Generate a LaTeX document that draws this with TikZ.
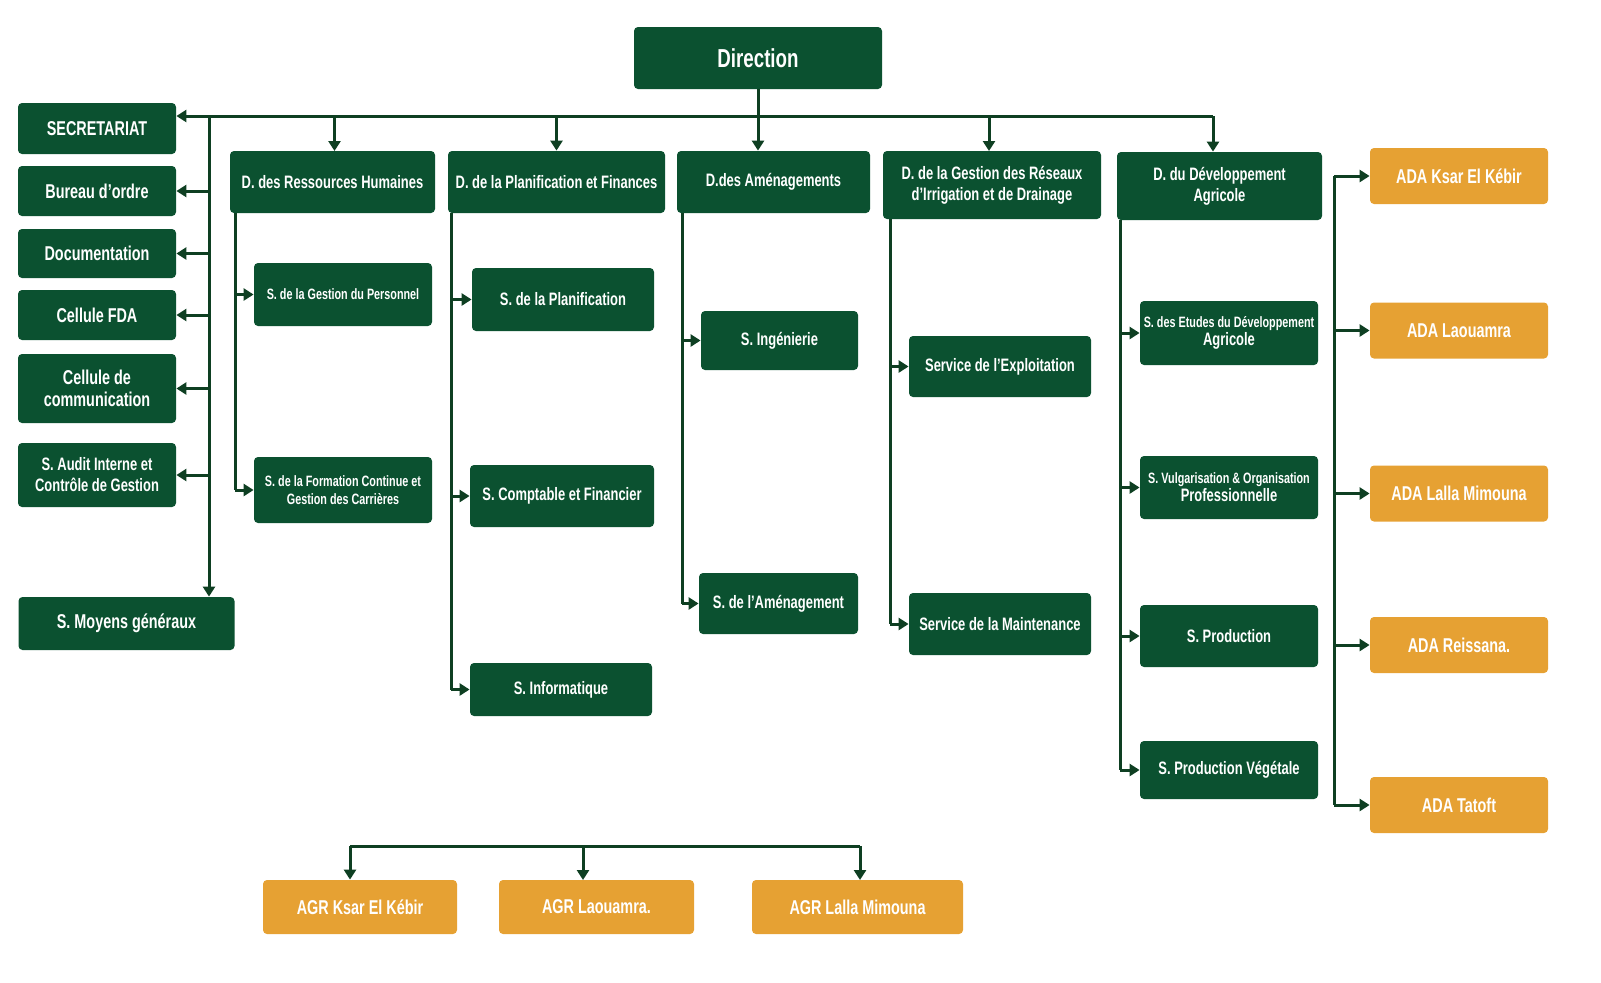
\documentclass[tikz,border=0pt]{standalone}
\usepackage{fontspec}
\setmainfont{Liberation Sans}[FakeStretch=0.72]
\usetikzlibrary{arrows.meta}
\definecolor{dgreen}{HTML}{0B5130}
\definecolor{lgreen}{HTML}{0E3F22}
\definecolor{ora}{HTML}{E6A133}
\tikzset{
  box/.style={rounded corners=2pt, text=white, font=\bfseries\fontsize{10}{11}\selectfont, align=center, inner sep=1pt},
  gbox/.style={box, fill=dgreen},
  obox/.style={box, fill=ora},
  sm/.style={font=\bfseries\fontsize{7.5}{9}\selectfont},
  md/.style={font=\bfseries\fontsize{9}{10.5}\selectfont},
  ln/.style={draw=lgreen, line width=1.5pt},
  arr/.style={ln, -{Triangle[length=5pt,width=6pt]}}
}
\begin{document}
\begin{tikzpicture}[x=0.5pt,y=-0.5pt]
  \useasboundingbox (0,0) rectangle (1601,982);
  %Direction
  \node[gbox, minimum width=124pt, minimum height=31pt, font=\bfseries\fontsize{13}{14}\selectfont] (dir) at (758,58) {Direction};
  %Left column
  \node[gbox, minimum width=79pt, minimum height=25.5pt] (secr) at (97,128.5) {SECRETARIAT};
  \node[gbox, minimum width=79pt, minimum height=25pt] (bur) at (97,191) {Bureau d'ordre};
  \node[gbox, minimum width=79pt, minimum height=24.5pt] (doc) at (97,253.5) {Documentation};
  \node[gbox, minimum width=79pt, minimum height=25pt] (fda) at (97,315) {Cellule FDA};
  \node[gbox, minimum width=79pt, minimum height=34.5pt] (com) at (97,388.5) {Cellule de\\communication};
  \node[gbox, md, minimum width=79pt, minimum height=32pt] (aud) at (97,475) {S. Audit Interne et\\Contrôle de Gestion};
  \node[gbox, minimum width=108pt, minimum height=26.5pt] (moy) at (126.5,623.5) {S. Moyens généraux};
  %Directorates
  \node[gbox, md, minimum width=102.5pt, minimum height=31pt] (drh) at (332.5,182) {D. des Ressources Humaines};
  \node[gbox, md, minimum width=108.5pt, minimum height=31pt] (dpf) at (556.5,182) {D. de la Planification et Finances};
  \node[gbox, md, minimum width=96.5pt, minimum height=31pt] (da) at (773.5,182) {D.des Aménagements};
  \node[gbox, md, minimum width=109pt, minimum height=34pt] (dgr) at (992,185) {D. de la Gestion des Réseaux\\d'Irrigation et de Drainage};
  \node[gbox, md, minimum width=102.5pt, minimum height=34pt] (dda) at (1219.5,186) {D. du Développement\\Agricole};
  %Services
  \node[gbox, sm, minimum width=89pt, minimum height=31.5pt] (gp) at (343,294.5) {S. de la Gestion du Personnel};
  \node[gbox, sm, minimum width=89pt, minimum height=33pt] (fc) at (343,490) {S. de la Formation Continue et\\Gestion des Carrières};
  \node[gbox, md, minimum width=91pt, minimum height=31.5pt] (pl) at (563,299.5) {S. de la Planification};
  \node[gbox, md, minimum width=92pt, minimum height=31pt] (cf) at (562,496) {S. Comptable et Financier};
  \node[gbox, md, minimum width=91pt, minimum height=26.5pt] (inf) at (561,689.5) {S. Informatique};
  \node[gbox, md, minimum width=78.5pt, minimum height=29.5pt] (ing) at (779.5,340.5) {S. Ingénierie};
  \node[gbox, md, minimum width=79.5pt, minimum height=30.5pt] (am) at (778.5,603.5) {S. de l'Aménagement};
  \node[gbox, md, minimum width=91pt, minimum height=30.5pt] (ex) at (1000,366.5) {Service de l'Exploitation};
  \node[gbox, md, minimum width=91pt, minimum height=31pt] (mt) at (1000,624) {Service de la Maintenance};
  \node[gbox, sm, minimum width=89pt, minimum height=32pt] (et) at (1229,333) {S. des Etudes du Développement\\{\fontsize{9}{10}\selectfont Agricole}};
  \node[gbox, sm, minimum width=89pt, minimum height=31.5pt] (vu) at (1229,487.5) {S. Vulgarisation \& Organisation\\{\fontsize{9}{10}\selectfont Professionnelle}};
  \node[gbox, md, minimum width=89pt, minimum height=31pt] (pr) at (1229,636) {S. Production};
  \node[gbox, md, minimum width=89pt, minimum height=29pt] (pv) at (1229,770) {S. Production Végétale};
  %ADA
  \node[obox, minimum width=89pt, minimum height=28pt] (ada1) at (1459,176) {ADA Ksar El Kébir};
  \node[obox, minimum width=89pt, minimum height=28pt] (ada2) at (1459,330.5) {ADA Laouamra};
  \node[obox, minimum width=89pt, minimum height=28pt] (ada3) at (1459,493.5) {ADA Lalla Mimouna};
  \node[obox, minimum width=89pt, minimum height=28pt] (ada4) at (1459,645) {ADA Reissana.};
  \node[obox, minimum width=89pt, minimum height=28pt] (ada5) at (1459,805) {ADA Tatoft};
  %AGR
  \node[obox, minimum width=97pt, minimum height=27pt] (agr1) at (360,907) {AGR Ksar El Kébir};
  \node[obox, minimum width=97.5pt, minimum height=27pt] (agr2) at (596.5,907) {AGR Laouamra.};
  \node[obox, minimum width=105.5pt, minimum height=27pt] (agr3) at (857.5,907) {AGR Lalla Mimouna};

  %Main bus
  \coordinate (bus) at (758,116);
  \coordinate (lt) at (209,116);
  \draw[arr] (dir.south) -- (da.north -| dir.south);
  \draw[arr] (1213,116) -- (secr.east |- bus);
  \draw[arr] (bus -| drh.north) ++(2,0) -- ++(0,35);
  \draw[arr] (bus -| dpf.north) -- (dpf.north);
  \draw[arr] (bus -| dgr.north) ++(-3,0) -- ++(0,35);
  \draw[arr] (1213,116) -- (dda.north -| 1213,0);
  %Left trunk
  \draw[arr] (lt) -- (lt |- moy.north);
  \foreach \n in {bur,doc,fda,com,aud}
    \draw[arr] (lt |- \n.east) -- (\n.east);
  %Service trunks
  \coordinate (t1) at (235,213);
  \draw[ln] (t1) -- (t1 |- fc.west);
  \foreach \n in {gp,fc} \draw[arr] (t1 |- \n.west) -- (\n.west);
  \coordinate (t2) at (451,213);
  \draw[ln] (t2) -- (t2 |- inf.west);
  \foreach \n in {pl,cf,inf} \draw[arr] (t2 |- \n.west) -- (\n.west);
  \coordinate (t3) at (682,213);
  \draw[ln] (t3) -- (t3 |- am.west);
  \foreach \n in {ing,am} \draw[arr] (t3 |- \n.west) -- (\n.west);
  \coordinate (t4) at (890,219);
  \draw[ln] (t4) -- (t4 |- mt.west);
  \foreach \n in {ex,mt} \draw[arr] (t4 |- \n.west) -- (\n.west);
  \coordinate (t5) at (1120,220);
  \draw[ln] (t5) -- (t5 |- pv.west);
  \foreach \n in {et,vu,pr,pv} \draw[arr] (t5 |- \n.west) -- (\n.west);
  %ADA trunk
  \coordinate (t6) at (1334,176);
  \draw[ln] (t6) -- (t6 |- ada5.west);
  \foreach \n in {ada1,ada2,ada3,ada4,ada5} \draw[arr] (t6 |- \n.west) -- (\n.west);
  %AGR bus
  \coordinate (ab) at (350,846);
  \draw[ln] (ab) -- (860,846);
  \draw[arr] (ab) -- (ab |- agr1.north);
  \draw[arr] (583,846) -- (583,880);
  \draw[arr] (860,846) -- (860,880);
\end{tikzpicture}
\end{document}
